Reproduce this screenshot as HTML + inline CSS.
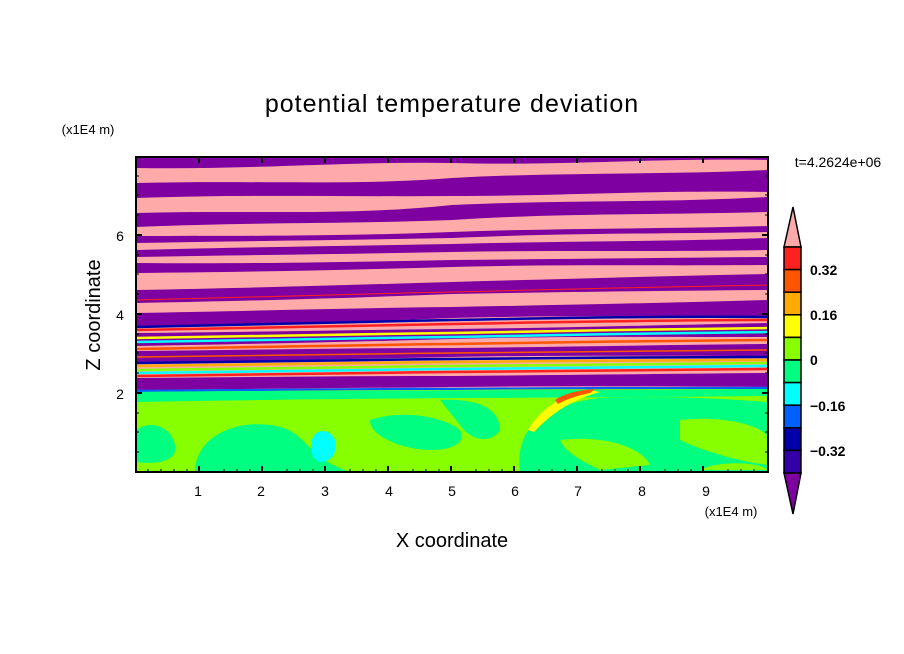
<!DOCTYPE html>
<html><head><meta charset="utf-8"><style>
body{margin:0;background:#fff;}
svg{display:block;font-family:"Liberation Sans",sans-serif;}
</style></head><body>
<svg width="904" height="654" viewBox="0 0 904 654" xmlns="http://www.w3.org/2000/svg">
<defs><clipPath id="c"><rect x="136" y="157" width="632" height="315"/></clipPath></defs>
<g clip-path="url(#c)">
<rect x="136" y="157" width="632" height="315" fill="#ffaaaa"/>
<g fill="#7f00a0">
<path d="M136 150 H768 V160 C650 158 560 166 452 163 C350 161 250 170 136 168Z"/>
<path d="M136 183 C250 180 350 186 452 178 C560 172 660 175 768 170 V192 C650 190 560 196 452 196 C350 197 250 194 136 198Z"/>
<path d="M136 213 C250 210 350 216 452 205 C560 200 660 203 768 197 V212 C650 215 560 213 452 220 C350 224 250 222 136 227Z"/>
<path d="M136 236 C250 236 350 236 452 232 C560 228 660 229 768 226 V232 C650 234 560 233 452 238 C350 240 250 241 136 243Z"/>
<path d="M136 250 C250 247 350 246 452 244 C560 241 660 242 768 238 V250 C650 252 560 250 452 252 C350 254 250 255 136 257Z"/>
<path d="M136 263 C250 264 350 262 452 260 C560 259 660 258 768 257 V265 C650 266 560 264 452 267 C350 270 250 272 136 273Z"/>
<path d="M136 290 C250 288 350 285 452 282 C560 279 660 276 768 274 V290 C650 291 560 292 452 294 C350 298 250 301 136 303Z"/>
<path d="M136 313 C250 311 350 308 452 307 C560 305 660 303 768 300 V316 C650 317 560 315 452 318 C350 322 250 324 136 326Z"/>
<path d="M136 333 C250 332 350 330 452 329 C560 328 660 325 768 323 V337 C650 337 560 336 452 339 C350 342 250 344 136 346Z"/>
<path d="M136 351 C250 350 350 348 452 348 C560 347 660 345 768 344 V356 C650 356 560 355 452 357 C350 359 250 361 136 362Z"/>
<path d="M136 378 C250 377 350 376 452 376 C560 375 660 374 768 373 V387 C650 386 560 386 452 387 C350 388 250 389 136 390Z"/>
</g>
<g fill="none" stroke-width="2.5">
<path d="M136 327 C250 325 350 322 452 320 C560 318 660 316 768 317" stroke="#0000aa"/>
<path d="M136 330 C250 328 350 326 452 324 C560 322 660 320 768 320" stroke="#ff2020"/>
<path d="M136 338 C250 337 350 334 452 333 C560 331 660 329 768 328" stroke="#ffff00"/>
<path d="M136 342 C250 341 350 338 452 337 C560 335 660 333 768 332" stroke="#00ffff"/>
<path d="M136 349 C250 347 350 345 452 344 C560 342 660 341 768 340" stroke="#ff5500"/>
<path d="M136 363 C250 362 350 360 452 359 C560 358 660 357 768 357" stroke="#0000aa"/>
<path d="M136 366 C250 365 350 363 452 362 C560 361 660 360 768 360" stroke="#ffaa00"/>
<path d="M136 370 C250 369 350 367 452 366 C560 365 660 364 768 363" stroke="#88ff00"/>
<path d="M136 373 C250 372 350 370 452 369 C560 368 660 367 768 366" stroke="#00ffff"/>
<path d="M136 376 C250 375 350 373 452 372 C560 371 660 370 768 369" stroke="#ff2020"/>
<path d="M136 391 C250 390 350 389 452 389 C560 388 660 388 768 388" stroke="#0060ff"/>
<path d="M136 357 C250 356 350 354 452 353 C560 352 660 351 768 350" stroke="#ff5500" stroke-width="1.5"/>
<path d="M136 300 C250 297 350 294 452 292 C560 289 660 287 768 285" stroke="#ff2020" stroke-width="1"/>
</g>
<path d="M136 392 C250 391 350 390 452 390 C560 389 660 389 768 389 V472 H136Z" fill="#88ff00"/>
<g fill="#00ff80">
<path d="M136 392 C300 390 500 391 768 389 V396 C600 398 400 397 136 402Z"/>
<path d="M195 472 C195 440 230 420 270 425 C310 430 300 455 350 472Z"/>
<path d="M520 472 C515 430 540 405 600 398 C680 395 740 400 768 402 V472Z"/>
<path d="M136 430 C150 420 170 425 175 445 C178 460 160 465 136 462Z"/>
<path d="M370 420 C400 410 440 415 460 430 C470 450 430 455 400 445 C380 438 370 430 370 420Z"/>
<path d="M440 400 C480 398 500 410 500 430 C490 445 470 440 460 425Z"/>
</g>
<g fill="#88ff00">
<path d="M680 420 C720 415 768 425 768 440 V465 C740 462 700 450 680 440Z"/>
<path d="M560 440 C600 435 640 445 650 465 L600 470 C580 460 565 452 560 440Z"/>
<path d="M700 470 C720 460 760 462 768 470Z"/>
</g>
<path d="M312 440 C315 428 330 428 335 440 C338 455 330 462 320 462 C312 460 310 450 312 440Z" fill="#00ffff"/>
<path d="M528 430 C540 410 560 395 590 390 L600 392 C570 400 550 415 534 432Z" fill="#ffff00"/>
<path d="M555 400 C565 393 580 390 595 389 L590 393 C575 396 565 400 558 404Z" fill="#ff5500"/>
</g>
<rect x="136" y="157" width="632" height="315" fill="none" stroke="#000" stroke-width="2"/>
<g stroke="#000" stroke-width="2">
<path d="M199 472v-6M262 472v-6M325 472v-6M388 472v-6M451 472v-6M514 472v-6M577 472v-6M640 472v-6M703 472v-6"/>
<path d="M199 157v6M262 157v6M325 157v6M388 157v6M451 157v6M514 157v6M577 157v6M640 157v6M703 157v6"/>
<path d="M136 393h6M136 314h6M136 235h6M768 393h-6M768 314h-6M768 235h-6"/>
</g>
<g stroke="#000" stroke-width="1">
<path d="M161 472v-3M174 472v-3M187 472v-3M224 472v-3M237 472v-3M250 472v-3M287 472v-3M300 472v-3M313 472v-3M350 472v-3M363 472v-3M376 472v-3M413 472v-3M426 472v-3M439 472v-3M476 472v-3M489 472v-3M502 472v-3M539 472v-3M552 472v-3M565 472v-3M602 472v-3M615 472v-3M628 472v-3M665 472v-3M678 472v-3M691 472v-3M728 472v-3M741 472v-3M754 472v-3M148 472v-3"/>
<path d="M136 452h3M136 432h3M136 413h3M136 373h3M136 353h3M136 334h3M136 294h3M136 274h3M136 255h3M136 215h3M136 195h3M136 176h3M768 452h-3M768 432h-3M768 413h-3M768 373h-3M768 353h-3M768 334h-3M768 294h-3M768 274h-3M768 255h-3M768 215h-3M768 195h-3M768 176h-3"/>
</g>
<g font-size="14" fill="#000" text-anchor="middle">
<text x="198" y="496">1</text><text x="261" y="496">2</text><text x="325" y="496">3</text><text x="389" y="496">4</text><text x="452" y="496">5</text><text x="515" y="496">6</text><text x="578" y="496">7</text><text x="642" y="496">8</text><text x="706" y="496">9</text>
<text x="120" y="399">2</text><text x="120" y="320">4</text><text x="120" y="241">6</text>
</g>
<text x="731" y="516" font-size="13" text-anchor="middle">(x1E4 m)</text>
<text x="88" y="134" font-size="13" text-anchor="middle">(x1E4 m)</text>
<text x="452" y="547" font-size="20" text-anchor="middle">X coordinate</text>
<text transform="translate(100 315) rotate(-90)" font-size="20" text-anchor="middle">Z coordinate</text>
<text x="452" y="112" font-size="25" text-anchor="middle" letter-spacing="1">potential temperature deviation</text>
<text x="838" y="167" font-size="14" text-anchor="middle">t=4.2624e+06</text>
<g stroke="#000" stroke-width="1.5">
<path d="M784 247 L793 207 L801 247Z" fill="#ffaaaa"/>
<rect x="784" y="247" width="17" height="22.6" fill="#ff2020"/>
<rect x="784" y="269.6" width="17" height="22.6" fill="#ff5500"/>
<rect x="784" y="292.2" width="17" height="22.6" fill="#ffaa00"/>
<rect x="784" y="314.8" width="17" height="22.6" fill="#ffff00"/>
<rect x="784" y="337.4" width="17" height="22.6" fill="#88ff00"/>
<rect x="784" y="360" width="17" height="22.6" fill="#00ff80"/>
<rect x="784" y="382.6" width="17" height="22.6" fill="#00ffff"/>
<rect x="784" y="405.2" width="17" height="22.6" fill="#0060ff"/>
<rect x="784" y="427.8" width="17" height="22.6" fill="#0000aa"/>
<rect x="784" y="450.4" width="17" height="22.6" fill="#3300aa"/>
<path d="M784 473 L793 514 L801 473Z" fill="#7f00a0"/>
</g>
<g font-size="14" font-weight="bold">
<text x="810" y="275">0.32</text><text x="810" y="320">0.16</text><text x="810" y="365">0</text><text x="810" y="411">−0.16</text><text x="810" y="456">−0.32</text>
</g>
</svg>
</body></html>
